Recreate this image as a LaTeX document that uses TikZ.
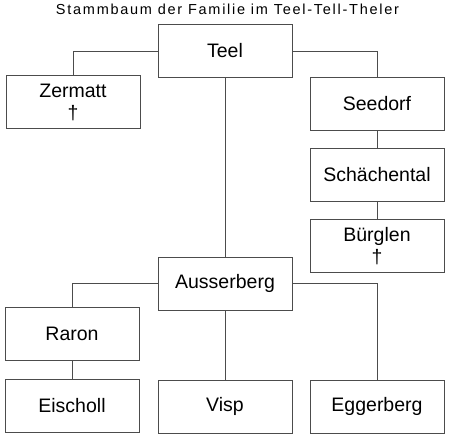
\documentclass[tikz,border=0pt]{standalone}
\usepackage{fontspec}
\setmainfont{Liberation Sans}
\usepackage{tikz}
\usetikzlibrary{positioning}

\tikzset{
  place/.style={draw=black!70,line width=0.8pt,fill=white,minimum width=134pt,minimum height=53pt,
    align=center,inner sep=0pt,font=\fontsize{19.5}{22}\selectfont},
  link/.style={draw=black!70,line width=0.8pt}
}

\begin{document}
\begin{tikzpicture}[x=1pt,y=-1pt]
  \useasboundingbox (0,0) rectangle (450,439);

  % Title
  \node (title) at (227.5,9) {\addfontfeatures{LetterSpace=12}\fontsize{14.5}{16}\selectfont Stammbaum der Familie im Teel-Tell-Theler};

  % First generation
  \node[place] (teel) at (225,51) {Teel};
  \node[place] (zermatt) at (73,102) {Zermatt\\†};
  \node[place] (seedorf) at (377,104) {Seedorf};
  \node[place] (schaechental) at (377,175) {Schächental};
  \node[place] (buerglen) at (377,246) {Bürglen\\†};

  % Ausserberg line
  \node[place] (ausserberg) at (225,283.5) {Ausserberg};
  \node[place] (raron) at (72,334) {Raron};
  \node[place] (eischoll) at (72,405.5) {Eischoll};
  \node[place] (visp) at (225,406.5) {Visp};
  \node[place] (eggerberg) at (377,406.5) {Eggerberg};

  % Connections
  \draw[link] (teel.west) -| (zermatt.north);
  \draw[link] (teel.east) -| (seedorf.north);
  \draw[link] (teel) -- (ausserberg);
  \draw[link] (seedorf) -- (schaechental);
  \draw[link] (schaechental) -- (buerglen);
  \draw[link] (ausserberg.west) -| (raron.north);
  \draw[link] (ausserberg.east) -| (eggerberg.north);
  \draw[link] (ausserberg) -- (visp);
  \draw[link] (raron) -- (eischoll);
\end{tikzpicture}
\end{document}
